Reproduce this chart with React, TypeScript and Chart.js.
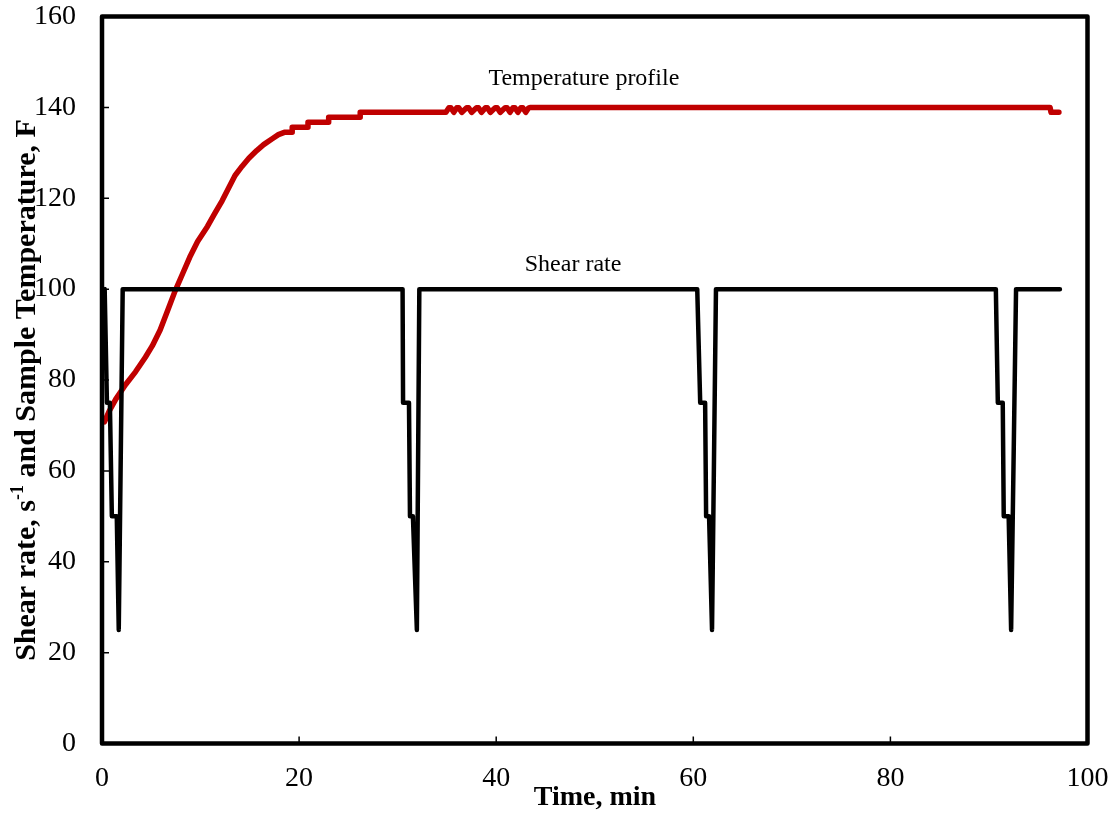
import React, { useEffect, useRef } from "react";
import { Chart, registerables } from "chart.js";

Chart.register(...registerables);

// ---- Data ----
const xTicks = [0, 20, 40, 60, 80, 100];
const yTicks = [0, 20, 40, 60, 80, 100, 120, 140, 160];

// Temperature profile (time in min, temperature in F)
const tempTime = [
  0.25, 0.7, 1.4, 2.4, 3.4, 4.4, 5.1, 5.9, 6.7, 7.4, 8.2, 8.9, 9.7, 10.7, 11.4, 12.2, 12.9,
  13.5, 14.2, 14.9, 15.7, 16.4, 17.2, 17.9, 18.5, 19.3, 19.3, 20.9, 20.9, 23.0, 23.0, 26.2,
  26.2, 34.9, 35.2, 35.4, 35.7, 36.0, 36.2, 36.5, 37.0, 37.2, 37.5, 38.0, 38.2, 38.5, 38.9,
  39.1, 39.4, 39.9, 40.1, 40.4, 40.9, 41.1, 41.4, 41.7, 41.9, 42.2, 42.5, 42.7, 43.0, 43.3,
  43.5, 96.2, 96.3, 97.1,
];
const tempF = [
  70.8, 73, 75.8, 79, 81.8, 85, 87.5, 91, 95.5, 99.5, 103.5, 107, 110.5, 113.8, 116.5, 119.5,
  122.5, 125, 127, 128.8, 130.5, 131.8, 133, 134, 134.5, 134.5, 135.6, 135.6, 136.7, 136.7,
  137.8, 137.8, 138.9, 138.9, 139.9, 139.9, 138.9, 139.9, 139.9, 138.9, 139.9, 139.9, 138.9,
  139.9, 139.9, 138.9, 139.9, 139.9, 138.9, 139.9, 139.9, 138.9, 139.9, 139.9, 138.9, 139.9,
  139.9, 138.9, 139.9, 139.9, 138.9, 139.9, 140, 140, 138.9, 138.9,
];

// Shear rate (time in min, shear rate in 1/s)
const shearTime = [
  0.27, 0.5, 0.8, 1.0, 1.5, 1.7, 2.1,
  30.5, 30.55, 31.15, 31.25, 31.55, 31.95, 32.2,
  60.4, 60.7, 61.2, 61.3, 61.6, 61.9, 62.3,
  90.7, 90.9, 91.4, 91.5, 92.0, 92.25, 92.75,
  97.2,
];
const shearRate = [
  100, 75, 75, 50, 50, 25, 100,
  100, 75, 75, 50, 50, 25, 100,
  100, 75, 75, 50, 50, 25, 100,
  100, 75, 75, 50, 50, 25, 100,
  100,
];

const annotations = [
  { text: "Temperature profile", x: 48.9, y: 146.4 },
  { text: "Shear rate", x: 47.8, y: 105.3 },
];

const SERIF = "'Times New Roman', 'Liberation Serif', serif";

const framePlugin = {
  id: "framePlugin",
  afterDraw(chart: any) {
    const ctx = chart.ctx as CanvasRenderingContext2D;
    const { left, right, top, bottom } = chart.chartArea;
    const xs = chart.scales.x;
    const ys = chart.scales.y;
    ctx.save();
    // inward ticks
    ctx.strokeStyle = "#000";
    ctx.lineWidth = 1.5;
    ctx.beginPath();
    yTicks.forEach((v) => {
      const py = ys.getPixelForValue(v);
      ctx.moveTo(left, py);
      ctx.lineTo(left + 7, py);
    });
    xTicks.forEach((v) => {
      const px = xs.getPixelForValue(v);
      ctx.moveTo(px, bottom);
      ctx.lineTo(px, bottom - 7);
    });
    ctx.stroke();
    // frame
    ctx.lineWidth = 4.5;
    ctx.lineJoin = "round";
    ctx.strokeRect(left, top, right - left, bottom - top);

    // annotations
    ctx.fillStyle = "#000";
    ctx.font = `24px ${SERIF}`;
    ctx.textAlign = "center";
    ctx.textBaseline = "middle";
    annotations.forEach((a) => {
      ctx.fillText(a.text, xs.getPixelForValue(a.x), ys.getPixelForValue(a.y));
    });

    // x title
    ctx.font = `bold 28px ${SERIF}`;
    ctx.fillText("Time, min", 595, 798);

    // y title with superscript
    const part1 = "Shear rate, s";
    const sup = "-1";
    const part2 = " and Sample Temperature, F";
    const mainFont = `bold 30px ${SERIF}`;
    const supFont = `bold 18px ${SERIF}`;
    ctx.font = mainFont;
    const w1 = ctx.measureText(part1).width;
    const w3 = ctx.measureText(part2).width;
    ctx.font = supFont;
    const w2 = ctx.measureText(sup).width;
    const total = w1 + w2 + w3;
    ctx.translate(35, 390);
    ctx.rotate(-Math.PI / 2);
    ctx.textAlign = "left";
    ctx.textBaseline = "alphabetic";
    let cx = -total / 2;
    ctx.font = mainFont;
    ctx.fillText(part1, cx, 0);
    cx += w1;
    ctx.font = supFont;
    ctx.fillText(sup, cx, -12);
    cx += w2;
    ctx.font = mainFont;
    ctx.fillText(part2, cx, 0);
    ctx.restore();
  },
};

export default function App() {
  const ref = useRef<HTMLCanvasElement | null>(null);
  useEffect(() => {
    document.body.style.margin = "0";
    const canvas = ref.current!;
    const chart = new Chart(canvas, {
      type: "line",
      data: {
        datasets: [
          {
            label: "Shear rate",
            data: shearTime.map((t, i) => ({ x: t, y: shearRate[i] })),
            borderColor: "#000000",
            borderWidth: 4.5,
            borderCapStyle: "round",
            borderJoinStyle: "round",
            pointRadius: 0,
            tension: 0,
            fill: false,
          },
          {
            label: "Temperature profile",
            data: tempTime.map((t, i) => ({ x: t, y: tempF[i] })),
            borderColor: "#C00000",
            borderWidth: 5.5,
            borderCapStyle: "round",
            borderJoinStyle: "round",
            pointRadius: 0,
            tension: 0,
            fill: false,
          },
        ],
      },
      options: {
        responsive: false,
        animation: false,
        events: [],
        layout: { padding: { left: 0, top: 16.5, right: 32.5, bottom: 0 } },
        plugins: { legend: { display: false }, tooltip: { enabled: false } },
        scales: {
          x: {
            type: "linear",
            min: 0,
            max: 100,
            afterFit: (s: any) => {
              s.height = 71.5;
              s.paddingLeft = 0;
              s.paddingRight = 0;
              s.paddingTop = 0;
              s.paddingBottom = 0;
            },
            afterBuildTicks: (s: any) => {
              s.ticks = xTicks.map((v) => ({ value: v }));
            },
            grid: { display: false, drawTicks: false },
            border: { display: false },
            ticks: {
              color: "#000",
              font: { family: SERIF, size: 28 },
              padding: 18,
              maxRotation: 0,
            },
          },
          y: {
            type: "linear",
            min: 0,
            max: 160,
            afterFit: (s: any) => {
              s.width = 102;
              s.paddingLeft = 0;
              s.paddingRight = 0;
              s.paddingTop = 0;
              s.paddingBottom = 0;
            },
            afterBuildTicks: (s: any) => {
              s.ticks = yTicks.map((v) => ({ value: v }));
            },
            grid: { display: false, drawTicks: false },
            border: { display: false },
            ticks: {
              color: "#000",
              font: { family: SERIF, size: 28 },
              padding: 26,
            },
          },
        },
      },
      plugins: [framePlugin],
    });
    return () => chart.destroy();
  }, []);
  return <canvas ref={ref} width={1120} height={815} style={{ display: "block" }} />;
}
